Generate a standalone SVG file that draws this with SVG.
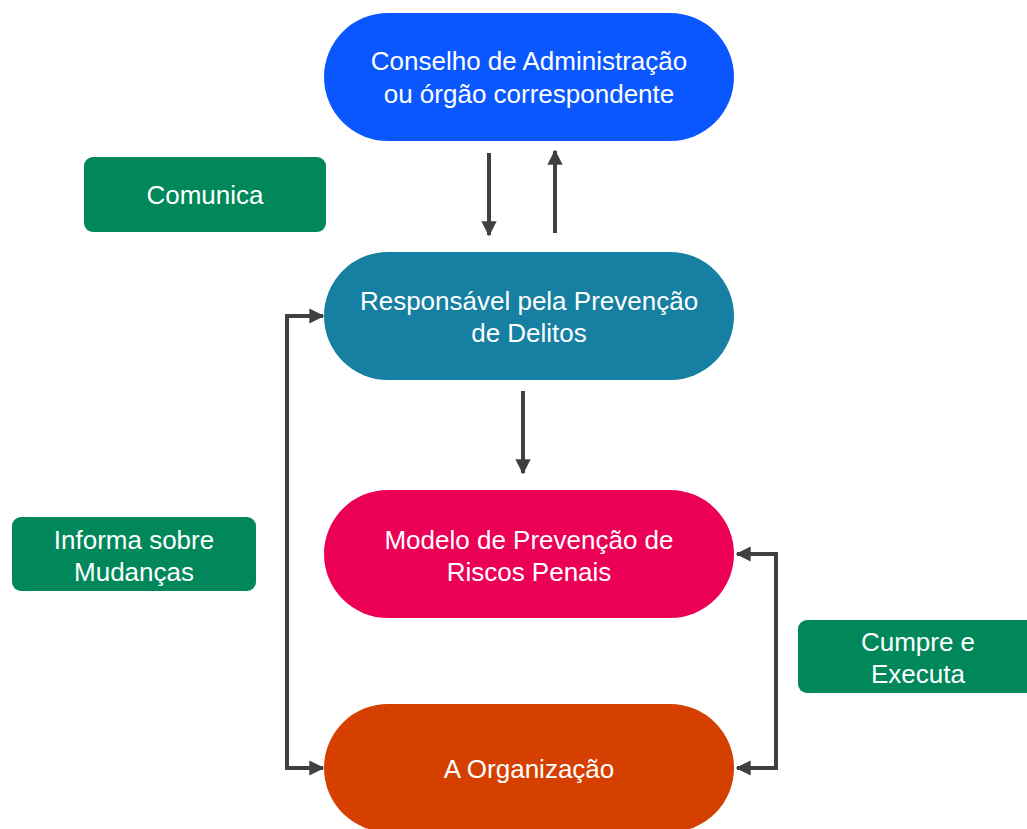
<svg xmlns="http://www.w3.org/2000/svg" width="1027" height="829" viewBox="0 0 1027 829">
<defs>
<style>
.t{font-family:"Liberation Sans",Arial,sans-serif;font-size:26px;fill:#fff;text-anchor:middle}
.c{stroke:#404040;stroke-width:4;fill:none}
.g{fill:#00875A}
</style>
<marker id="ah" viewBox="0 0 10 10" refX="9" refY="5" markerWidth="3.8" markerHeight="3.8" orient="auto-start-reverse" markerUnits="strokeWidth">
<path d="M0,0 L10,5 L0,10 z" fill="#404040"/>
</marker>
</defs>
<rect width="1027" height="829" fill="#fff"/>
<g id="connectors">
<line class="c" x1="489" y1="153" x2="489" y2="235" marker-end="url(#ah)"/>
<line class="c" x1="555" y1="233" x2="555" y2="151" marker-end="url(#ah)"/>
<line class="c" x1="523" y1="391" x2="523" y2="473" marker-end="url(#ah)"/>
<polyline class="c" points="323,768 287,768 287,316 323,316" marker-start="url(#ah)" marker-end="url(#ah)"/>
<polyline class="c" points="737,554 776,554 776,768 737,768" marker-start="url(#ah)" marker-end="url(#ah)"/>
</g>
<g id="conselho">
<rect x="324" y="13" width="410" height="128" rx="64" fill="#0A57FF"/>
<text class="t" x="529" y="70">Conselho de Administração</text>
<text class="t" x="529" y="103">ou órgão correspondente</text>
</g>
<g id="responsavel">
<rect x="324" y="252" width="410" height="128" rx="64" fill="#1580A2"/>
<text class="t" x="529" y="310">Responsável pela Prevenção</text>
<text class="t" x="529" y="342">de Delitos</text>
</g>
<g id="modelo">
<rect x="324" y="490" width="410" height="128" rx="64" fill="#EC0055"/>
<text class="t" x="529" y="549">Modelo de Prevenção de</text>
<text class="t" x="529" y="581">Riscos Penais</text>
</g>
<g id="organizacao">
<rect x="324" y="704" width="410" height="128" rx="64" fill="#D54000"/>
<text class="t" x="529" y="778">A Organização</text>
</g>
<g id="comunica">
<rect class="g" x="84" y="157" width="242" height="75" rx="9"/>
<text class="t" x="205" y="204">Comunica</text>
</g>
<g id="informa">
<rect class="g" x="12" y="517" width="244" height="74" rx="9"/>
<text class="t" x="134" y="549">Informa sobre</text>
<text class="t" x="134" y="581">Mudanças</text>
</g>
<g id="cumpre">
<rect class="g" x="798" y="620" width="240" height="73" rx="9"/>
<text class="t" x="918" y="651">Cumpre e</text>
<text class="t" x="918" y="683">Executa</text>
</g>
</svg>
